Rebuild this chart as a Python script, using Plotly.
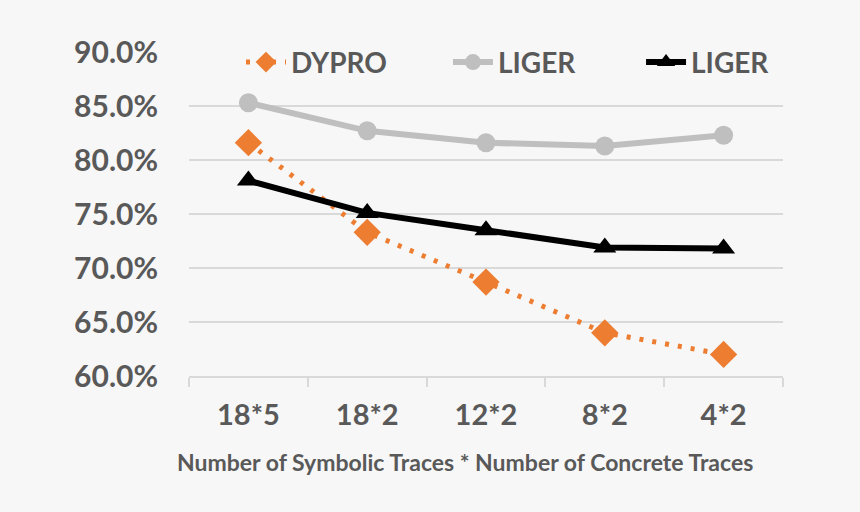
import plotly.graph_objects as go

categories = ["18*5", "18*2", "12*2", "8*2", "4*2"]
dypro = [81.6, 73.3, 68.7, 64.0, 62.0]
liger_gray = [85.3, 82.7, 81.6, 81.3, 82.3]
liger_black = [78.1, 75.1, 73.5, 71.9, 71.8]
y_ticks = [60, 65, 70, 75, 80, 85, 90]

FONT = "Lato"
TXT = "#595959"

fig = go.Figure()
fig.add_trace(go.Scatter(
    x=categories, y=dypro, name="DYPRO", mode="lines+markers", legend="legend",
    line=dict(color="#ED7D31", width=5, dash="4px,9px"),
    marker=dict(symbol="diamond", size=21, color="#ED7D31"),
))
fig.add_trace(go.Scatter(
    x=categories, y=liger_gray, name="LIGER", mode="lines+markers", legend="legend2",
    line=dict(color="#BFBFBF", width=6),
    marker=dict(symbol="circle", size=19, color="#BFBFBF"),
))
fig.add_trace(go.Scatter(
    x=categories, y=liger_black, name="LIGER", mode="lines+markers", legend="legend3",
    line=dict(color="#000000", width=6),
    marker=dict(symbol="triangle-up", size=20, color="#000000"),
))

def leg(x):
    return dict(
        orientation="h", x=x, y=1.045, xanchor="left", yanchor="top",
        bgcolor="rgba(0,0,0,0)", font=dict(family=FONT, size=28, color=TXT, weight="bold"),
        itemwidth=40,
    )

fig.update_layout(
    width=860, height=512,
    margin=dict(l=189, r=77, t=52, b=136),
    paper_bgcolor="#F7F7F7", plot_bgcolor="#F7F7F7",
    font=dict(family=FONT, color=TXT),
    showlegend=True,
    legend=leg(0.0875), legend2=leg(0.436), legend3=leg(0.761),
    xaxis=dict(
        type="category", range=[-0.5, 4.5],
        showgrid=False, showline=True, linecolor="#D9D9D9", linewidth=2,
        ticks="outside", tickson="boundaries", ticklen=9, tickcolor="#D9D9D9", tickwidth=2,
        tickfont=dict(family=FONT, size=29, color=TXT, weight="bold"),
        ticklabelstandoff=12,
        automargin=False, zeroline=False,
    ),
    yaxis=dict(
        range=[60, 90], tickvals=y_ticks, ticktext=[f"{v:.1f}%" for v in y_ticks],
        showgrid=True, gridcolor="#D9D9D9", gridwidth=2,
        showline=False, ticks="", zeroline=False,
        tickfont=dict(family=FONT, size=30, color=TXT, weight="bold"),
        ticklabelstandoff=30, automargin=False,
    ),
    annotations=[dict(
        text="Number of Symbolic Traces * Number of Concrete Traces",
        xref="paper", yref="paper", x=0.4646, y=-0.265,
        xanchor="center", yanchor="middle", showarrow=False,
        font=dict(family=FONT, size=23, color=TXT, weight="bold"),
    )],
)

fig.write_html("out.html")
